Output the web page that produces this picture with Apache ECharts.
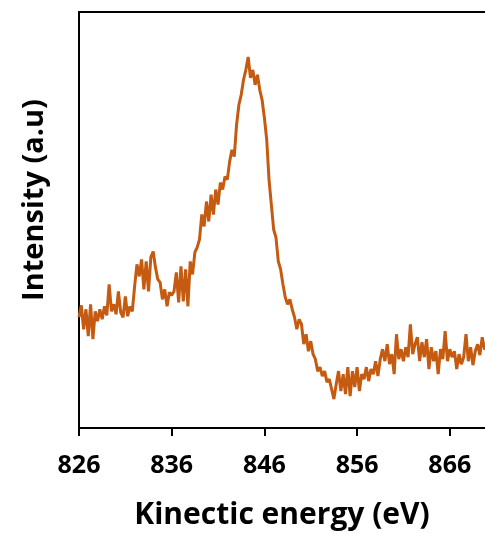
<!DOCTYPE html>
<html>
<head>
<meta charset="utf-8">
<title>Kinetic energy spectrum</title>
<script src="https://cdn.jsdelivr.net/npm/echarts/dist/echarts.min.js"></script>
<style>
  html, body { margin: 0; padding: 0; background: #fff; overflow: hidden; }
  #chart { width: 485px; height: 535px; }
</style>
</head>
<body>
<div id="chart"></div>
<script>
// kinetic energy (eV), sampled every 0.25 eV
var energy = [
  826.00, 826.25, 826.50, 826.75, 827.00, 827.25, 827.50, 827.75, 828.00, 828.25,
  828.50, 828.75, 829.00, 829.25, 829.50, 829.75, 830.00, 830.25, 830.50, 830.75,
  831.00, 831.25, 831.50, 831.75, 832.00, 832.25, 832.50, 832.75, 833.00, 833.25,
  833.50, 833.75, 834.00, 834.25, 834.50, 834.75, 835.00, 835.25, 835.50, 835.75,
  836.00, 836.25, 836.50, 836.75, 837.00, 837.25, 837.50, 837.75, 838.00, 838.25,
  838.50, 838.75, 839.00, 839.25, 839.50, 839.75, 840.00, 840.25, 840.50, 840.75,
  841.00, 841.25, 841.50, 841.75, 842.00, 842.25, 842.50, 842.75, 843.00, 843.25,
  843.50, 843.75, 844.00, 844.25, 844.50, 844.75, 845.00, 845.25, 845.50, 845.75,
  846.00, 846.25, 846.50, 846.75, 847.00, 847.25, 847.50, 847.75, 848.00, 848.25,
  848.50, 848.75, 849.00, 849.25, 849.50, 849.75, 850.00, 850.25, 850.50, 850.75,
  851.00, 851.25, 851.50, 851.75, 852.00, 852.25, 852.50, 852.75, 853.00, 853.25,
  853.50, 853.75, 854.00, 854.25, 854.50, 854.75, 855.00, 855.25, 855.50, 855.75,
  856.00, 856.25, 856.50, 856.75, 857.00, 857.25, 857.50, 857.75, 858.00, 858.25,
  858.50, 858.75, 859.00, 859.25, 859.50, 859.75, 860.00, 860.25, 860.50, 860.75,
  861.00, 861.25, 861.50, 861.75, 862.00, 862.25, 862.50, 862.75, 863.00, 863.25,
  863.50, 863.75, 864.00, 864.25, 864.50, 864.75, 865.00, 865.25, 865.50, 865.75,
  866.00, 866.25, 866.50, 866.75, 867.00, 867.25, 867.50, 867.75, 868.00, 868.25,
  868.50, 868.75, 869.00, 869.25, 869.50, 869.75, 870.00
];

// intensity, arbitrary units
var intensity = [
  111, 123,  99, 119,  92, 124,  89, 117, 107, 119,
  109, 122, 113, 144, 117, 124, 114, 137, 116, 111,
  132, 112, 122, 117, 142, 164, 152, 169, 139, 167,
  137, 171, 177, 161, 149, 146, 129, 139, 122, 136,
  133, 137, 156, 126, 162, 127, 159, 122, 167, 154,
  176, 181, 189, 214, 202, 227, 207, 234, 214, 239,
  224, 246, 239, 252, 249, 267, 279, 272, 304, 324,
  334, 349, 359, 372, 351, 359, 344, 354, 339, 329,
  311, 289, 249, 224, 199, 191, 167, 159, 144, 131,
  124, 129, 119, 111,  99, 109, 104,  84,  94,  77,
   87,  74,  69,  57,  61,  52,  57,  46,  49,  39,
   29,  44,  57,  37,  54,  34,  61,  32,  57,  41,
   61,  37,  54,  49,  61,  47,  59,  54,  67,  52,
   69,  79,  67,  84,  64,  74,  54,  94,  69,  79,
   67,  81,  71, 104,  74,  84,  91,  67,  86,  71,
   89,  59,  81,  67,  77,  54,  79,  69,  97,  67,
   79,  71,  77,  59,  74,  64,  71,  94,  67,  81,
   63,  77,  84,  73,  91,  79,  81
];

var xTicks = [826, 836, 846, 856, 866];

var chart = echarts.init(document.getElementById('chart'));

chart.setOption({
  animation: false,
  backgroundColor: '#fff',
  textStyle: { fontFamily: 'Open Sans' },
  grid: {
    left: 79,
    top: 12,
    right: 0,
    height: 417,
    show: false
  },
  xAxis: [{
    type: 'value',
    min: 826,
    max: 869.8,
    interval: 10,
    name: 'Kinectic energy (eV)',
    nameLocation: 'middle',
    nameGap: 72,
    nameTextStyle: { color: '#000', fontSize: 30, fontWeight: 'bold' },
    axisLine: { show: true, lineStyle: { color: '#000', width: 2 } },
    axisTick: { show: true, inside: false, length: 8, lineStyle: { color: '#000', width: 2 } },
    axisLabel: {
      color: '#000',
      fontSize: 25,
      fontWeight: 'bold',
      margin: 25,
      showMaxLabel: false,
      formatter: function (v) { return xTicks.indexOf(v) >= 0 ? String(v) : ''; }
    },
    splitLine: { show: false }
  }, {
    // top frame line only; the original is cropped on the right so no right edge
    type: 'value',
    position: 'top',
    min: 826,
    max: 869.8,
    axisLine: { show: true, lineStyle: { color: '#000', width: 2 } },
    axisTick: { show: false },
    axisLabel: { show: false },
    splitLine: { show: false }
  }],
  yAxis: {
    type: 'value',
    min: 0,
    max: 417,
    axisLine: { show: true, lineStyle: { color: '#000', width: 2 } },
    axisTick: { show: false },
    axisLabel: { show: false },
    splitLine: { show: false }
  },
  graphic: [{
    type: 'text',
    x: 35,
    y: 200,
    rotation: Math.PI / 2,
    style: {
      text: 'Intensity (a.u)',
      fill: '#000',
      font: 'bold 29px "Open Sans"',
      textAlign: 'center',
      textVerticalAlign: 'middle'
    }
  }],
  series: [{
    type: 'line',
    showSymbol: false,
    data: energy.map(function (e, i) { return [e, intensity[i]]; }),
    lineStyle: { color: '#C55A11', width: 3 },
    itemStyle: { color: '#C55A11' }
  }]
});
</script>
</body>
</html>
